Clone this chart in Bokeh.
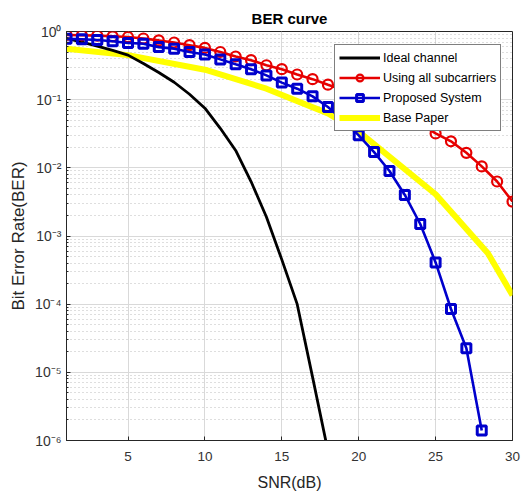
from bokeh.plotting import figure
from bokeh.models import FixedTicker, Legend, LegendItem, Range1d
from bokeh.embed import file_html
from bokeh.resources import INLINE

# ---- data ----
snr = list(range(1, 31))
ideal_snr = list(range(1, 19))
ideal_ber = [0.79, 0.70, 0.61, 0.53, 0.45, 0.34, 0.25, 0.18, 0.12, 0.075,
             0.038, 0.018, 0.0063, 0.0019, 4.5e-4, 1.0e-4, 8.5e-6, 7e-7]
all_sub_ber = [0.89, 0.88, 0.87, 0.85, 0.83, 0.79, 0.74, 0.69, 0.63, 0.575,
               0.50, 0.43, 0.38, 0.32, 0.28, 0.234, 0.20, 0.166, 0.138, 0.115,
               0.093, 0.074, 0.058, 0.044, 0.032, 0.0245, 0.0166, 0.0105, 0.0063, 0.0032]
prop_snr = list(range(1, 29))
prop_ber = [0.78, 0.77, 0.75, 0.72, 0.68, 0.66, 0.59, 0.56, 0.50, 0.46,
            0.39, 0.33, 0.28, 0.227, 0.178, 0.145, 0.112, 0.078, 0.05, 0.030,
            0.017, 0.009, 0.004, 0.0015, 4.1e-4, 8.5e-5, 2.26e-5, 1.4e-6]
base_snr = [1, 5, 10, 14, 18, 20, 25, 28.4, 30]
base_ber = [0.56, 0.45, 0.275, 0.145, 0.063, 0.034, 0.0041, 5.6e-4, 1.35e-4]

x_ticks = [5, 10, 15, 20, 25, 30]
y_ticks = [1e-6, 1e-5, 1e-4, 1e-3, 1e-2, 1e-1, 1]
y_tick_labels = ["10⁻⁶", "10⁻⁵", "10⁻⁴", "10⁻³", "10⁻²", "10⁻¹", "10⁰"]
y_minor = [m * d for d in [1e-6, 1e-5, 1e-4, 1e-3, 1e-2, 1e-1] for m in range(2, 10)]

FONT = "Liberation Sans"

p = figure(width=522, height=493, x_range=Range1d(1, 30), y_range=Range1d(1e-6, 1),
           y_axis_type="log", output_backend="svg", toolbar_location=None,
           title="BER curve", x_axis_label="SNR(dB)", y_axis_label="Bit Error Rate(BER)")
p.min_border_left = 66
p.min_border_right = 10
p.min_border_top = 31
p.min_border_bottom = 52
p.background_fill_color = "white"
p.border_fill_color = "white"
p.outline_line_color = "#262626"
p.outline_line_width = 1

p.title.align = "center"
p.title.text_font = FONT
p.title.text_font_size = "15px"
p.title.text_font_style = "bold"
p.title.text_color = "black"

p.xaxis.ticker = FixedTicker(ticks=x_ticks, minor_ticks=[])
p.yaxis.ticker = FixedTicker(ticks=y_ticks, minor_ticks=y_minor)
p.yaxis.major_label_overrides = {t: l for t, l in zip(y_ticks, y_tick_labels)}

for ax in (p.xaxis[0], p.yaxis[0]):
    ax.axis_line_color = "#262626"
    ax.major_tick_line_color = "#262626"
    ax.minor_tick_line_color = "#262626"
    ax.major_tick_in = 4
    ax.major_tick_out = 0
    ax.minor_tick_in = 2
    ax.minor_tick_out = 0
    ax.major_label_text_font = FONT
    ax.major_label_text_font_size = "13.5px"
    ax.major_label_text_color = "#333333"
    ax.axis_label_text_font = FONT
    ax.axis_label_text_font_style = "normal"
    ax.axis_label_text_color = "#262626"

p.xaxis.axis_label_text_font_size = "16px"
p.yaxis.axis_label_text_font_size = "17px"
p.yaxis.major_label_text_font_size = "14px"
p.yaxis.major_label_standoff = 5
p.yaxis.axis_label_standoff = 4
p.xaxis.major_label_standoff = 11
p.xaxis.axis_label_standoff = 10

p.xgrid.grid_line_color = "#d9d9d9"
p.ygrid.grid_line_color = "#d9d9d9"
p.ygrid.minor_grid_line_color = "#bdbdbd"
p.ygrid.minor_grid_line_dash = "1 3"

# ---- series ----
yellow = p.line(base_snr, base_ber, line_color="#ffff00", line_width=6)
black = p.line(ideal_snr, ideal_ber, line_color="black", line_width=2.8)
red_l = p.line(snr, all_sub_ber, line_color="#e60000", line_width=2.6)
red_s = p.scatter(snr, all_sub_ber, marker="circle", size=10, fill_color=None,
                  line_color="#e60000", line_width=2.2)
blue_l = p.line(prop_snr, prop_ber, line_color="#0000cc", line_width=2.6)
blue_s = p.scatter(prop_snr, prop_ber, marker="square", size=9, fill_color=None,
                   line_color="#0000cc", line_width=3)

legend = Legend(items=[
    LegendItem(label="Ideal channel", renderers=[black]),
    LegendItem(label="Using all subcarriers", renderers=[red_l, red_s]),
    LegendItem(label="Proposed System", renderers=[blue_l, blue_s]),
    LegendItem(label="Base Paper", renderers=[yellow]),
], location=(268, 309))
legend.label_text_font = FONT
legend.label_text_font_size = "12.5px"
legend.label_text_color = "black"
legend.glyph_width = 41
legend.glyph_height = 17
legend.label_height = 17
legend.spacing = 3
legend.padding = 4
legend.margin = 0
legend.label_standoff = 3
legend.border_line_color = "black"
legend.border_line_width = 1
legend.background_fill_color = "white"
legend.background_fill_alpha = 1
p.add_layout(legend, "center")

open("out.html", "w").write(file_html(p, INLINE))
